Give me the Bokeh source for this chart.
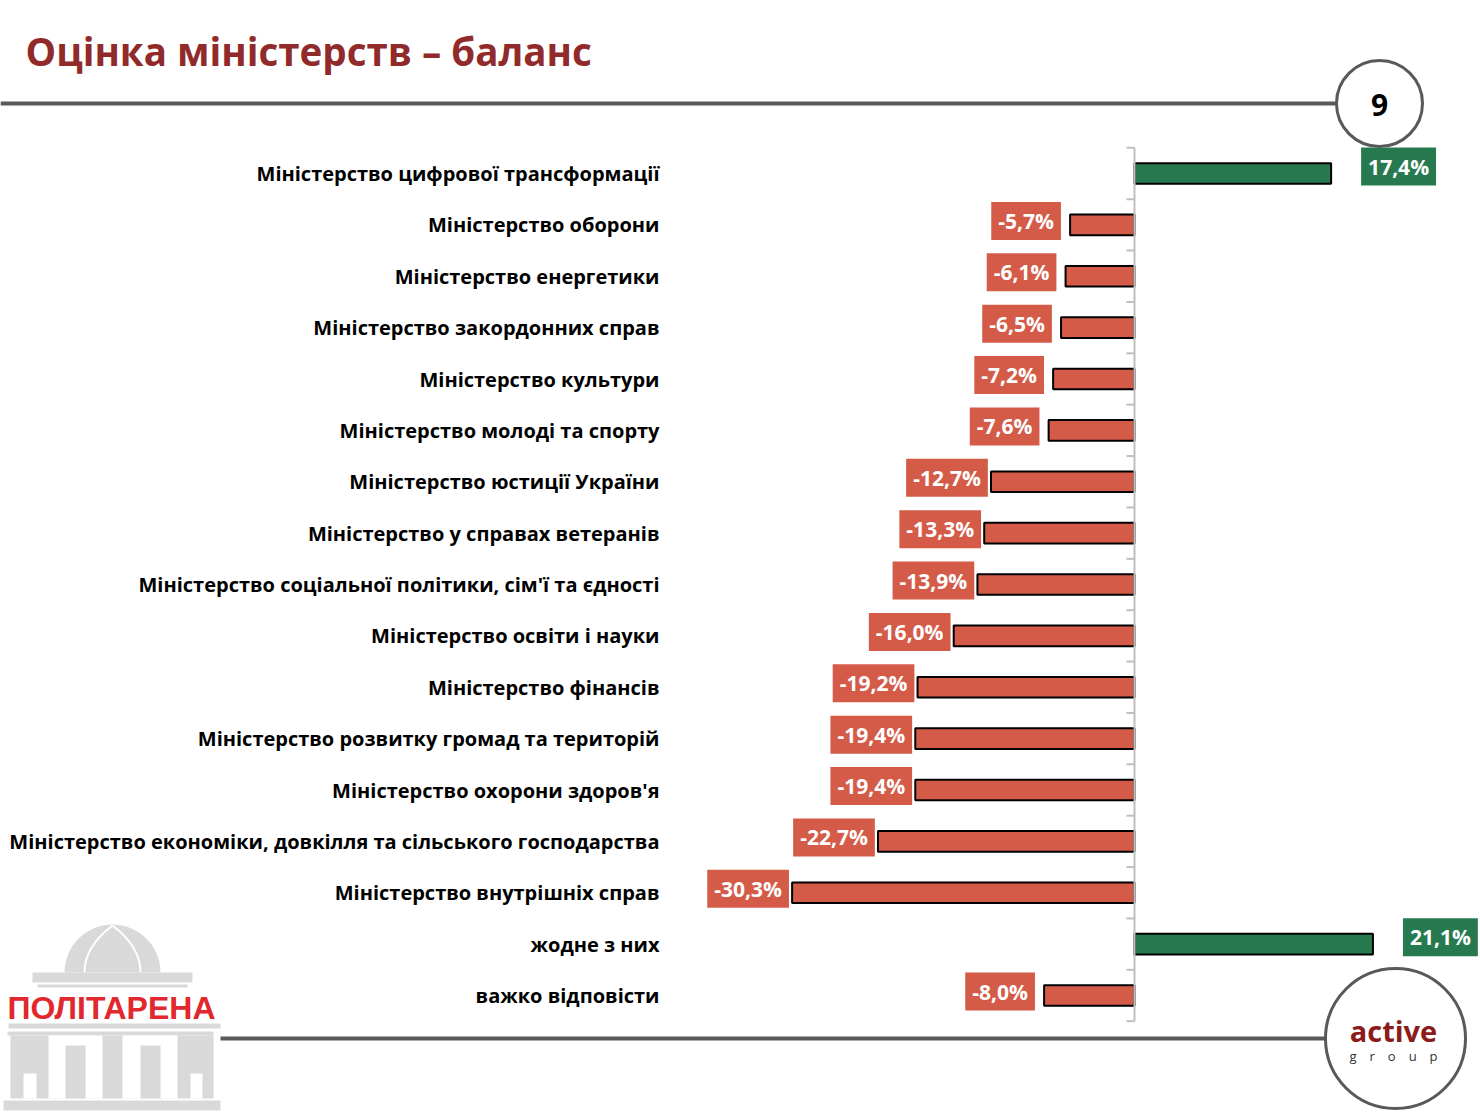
from bokeh.plotting import figure
from bokeh.models import ColumnDataSource, Range1d
from bokeh.core.properties import value
from bokeh.embed import file_html
from bokeh.resources import INLINE

ministries = [
    "Міністерство цифрової трансформації",
    "Міністерство оборони",
    "Міністерство енергетики",
    "Міністерство закордонних справ",
    "Міністерство культури",
    "Міністерство молоді та спорту",
    "Міністерство юстиції України",
    "Міністерство у справах ветеранів",
    "Міністерство соціальної політики, сім'ї та єдності",
    "Міністерство освіти і науки",
    "Міністерство фінансів",
    "Міністерство розвитку громад та територій",
    "Міністерство охорони здоров'я",
    "Міністерство економіки, довкілля та сільського господарства",
    "Міністерство внутрішніх справ",
    "жодне з них",
    "важко відповісти",
]
balance = [17.4, -5.7, -6.1, -6.5, -7.2, -7.6, -12.7, -13.3, -13.9, -16.0,
           -19.2, -19.4, -19.4, -22.7, -30.3, 21.1, -8.0]

title_text = "Оцінка міністерств – баланс"
page_number = "9"

GREEN = "#277a4f"
RED = "#d45b48"
GREY_LINE = "#595959"
LOGO_GREY = "#d9d9d9"
FONT = "Open Sans"

# canvas geometry (screenshot pixels)
W, H = 1480, 1112
X0, Y0 = 0, 0
ZERO_X = 1134
PX_PER_PCT = 11.3
ROW0_Y = 173
ROW_STEP = 51.375

p = figure(
    width=W,
    height=H,
    x_range=Range1d((X0 - ZERO_X) / PX_PER_PCT, (X0 + W - ZERO_X) / PX_PER_PCT),
    y_range=Range1d((Y0 + H - ROW0_Y) / ROW_STEP, (Y0 - ROW0_Y) / ROW_STEP),
    output_backend="svg",
    toolbar_location=None,
    x_axis_location=None,
    y_axis_location=None,
    min_border=0,
    outline_line_color=None,
)
p.xgrid.grid_line_color = None
p.ygrid.grid_line_color = None
# pixel coordinates for the slide decoration
p.extra_x_ranges = {"px": Range1d(X0, X0 + W)}
p.extra_y_ranges = {"px": Range1d(Y0 + H, Y0)}
px = dict(x_range_name="px", y_range_name="px")

idx = list(range(len(ministries)))
labels = [f"{v:.1f}".replace(".", ",") + "%" for v in balance]
colors = [GREEN if v > 0 else RED for v in balance]
src = ColumnDataSource(dict(idx=idx, name=ministries, val=balance, label=labels, color=colors))
neg = ColumnDataSource(dict(
    idx=[i for i, v in zip(idx, balance) if v < 0],
    val=[v for v in balance if v < 0],
    label=[l for l, v in zip(labels, balance) if v < 0],
))
pos = ColumnDataSource(dict(
    idx=[i for i, v in zip(idx, balance) if v > 0],
    val=[v for v in balance if v > 0],
    label=[l for l, v in zip(labels, balance) if v > 0],
))

# header
p.text(x=[25], y=[50], text=[title_text], text_font=value(FONT), text_font_style="bold",
       text_font_size="38.5px", text_color="#912b2b", text_baseline="middle", **px)
p.segment(x0=[0], y0=[103], x1=[1337], y1=[103], line_color=GREY_LINE, line_width=4, **px)
p.circle(x=[1379], y=[103], radius=43, fill_color="white", line_color=GREY_LINE, line_width=3, **px)
p.text(x=[1379], y=[104], text=[page_number], text_font=value(FONT), text_font_style="bold",
       text_font_size="30px", text_color="black", text_align="center", text_baseline="middle", **px)

# footer
p.segment(x0=[220], y0=[1038], x1=[1325], y1=[1038], line_color=GREY_LINE, line_width=4, **px)
p.circle(x=[1395], y=[1038], radius=70, fill_color="white", line_color=GREY_LINE, line_width=3, **px)
p.text(x=[1393], y=[1030], text=["active"], text_font=value(FONT), text_font_style="bold",
       text_font_size="29px", text_color="#8b1c1c", text_align="center", text_baseline="middle", **px)
p.text(x=[1393], y=[1055], text=["g\u2003r\u2003o\u2003u\u2003p"], text_font=value(FONT),
       text_font_size="13px", text_color="#333333", text_align="center", text_baseline="middle", **px)

# politarena logo
p.wedge(x=[112], y=[972], radius=48, start_angle=0, end_angle=3.1416, fill_color=LOGO_GREY, line_color=None, **px)
p.bezier(x0=[112, 112], y0=[925, 925], x1=[84, 140], y1=[972, 972], cx0=[92, 132], cy0=[940, 940],
         cx1=[84, 140], cy1=[955, 955], line_color="white", line_width=2, **px)
p.quad(left=[32, 37, 8, 7, 10, 3], right=[192, 187, 220, 213, 213, 220],
       top=[972, 984, 1023, 1031, 1035, 1100], bottom=[982, 987, 1028, 1035, 1098, 1110],
       fill_color=LOGO_GREY, line_color=None, **px)
p.quad(left=[23, 48, 122, 190], right=[36, 102, 177, 202],
       top=[1073, 1035, 1035, 1073], bottom=[1098, 1098, 1098, 1098],
       fill_color="white", line_color=None, **px)
p.quad(left=[65, 140], right=[85, 160], top=[1045, 1045], bottom=[1098, 1098],
       fill_color=LOGO_GREY, line_color=None, **px)
p.text(x=[111], y=[1007], text=["ПОЛІТАРЕНА"], text_font=value("Liberation Sans"), text_font_style="bold",
       text_font_size="32px", text_color="#e0282e", text_align="center", text_baseline="middle", **px)

# category labels
p.text(x=659, y="idx", text="name", source=src, x_range_name="px", text_font=value(FONT),
       text_font_style="bold", text_font_size="20px", text_color="black",
       text_align="right", text_baseline="middle")

# bars
p.hbar(y="idx", left=0, right="val", height=0.4, source=src, fill_color="color",
       line_color="black", line_width=2)

# category axis with ticks at row boundaries
bounds = [i - 0.5 for i in range(len(ministries) + 1)]
p.segment(x0=1126, y0=bounds, x1=1134, y1=bounds, x_range_name="px", line_color="#bfbfbf", line_width=2)
p.segment(x0=[0], y0=[bounds[0]], x1=[0], y1=[bounds[-1]], line_color="#bfbfbf", line_width=2)

# value labels
p.text(x="val", y="idx", text="label", source=neg, x_offset=-44, y_offset=-4,
       text_font=value(FONT), text_font_style="bold", text_font_size="21px", text_color="white",
       text_align="center", text_baseline="middle", background_fill_color=RED,
       padding=dict(left=7, right=7, top=5, bottom=5))
p.text(x="val", y="idx", text="label", source=pos, x_offset=30, y_offset=-7,
       text_font=value(FONT), text_font_style="bold", text_font_size="21px", text_color="white",
       text_align="left", text_baseline="middle", background_fill_color=GREEN,
       padding=dict(left=7, right=7, top=5, bottom=5))

open("out.html", "w").write(file_html(p, INLINE))
